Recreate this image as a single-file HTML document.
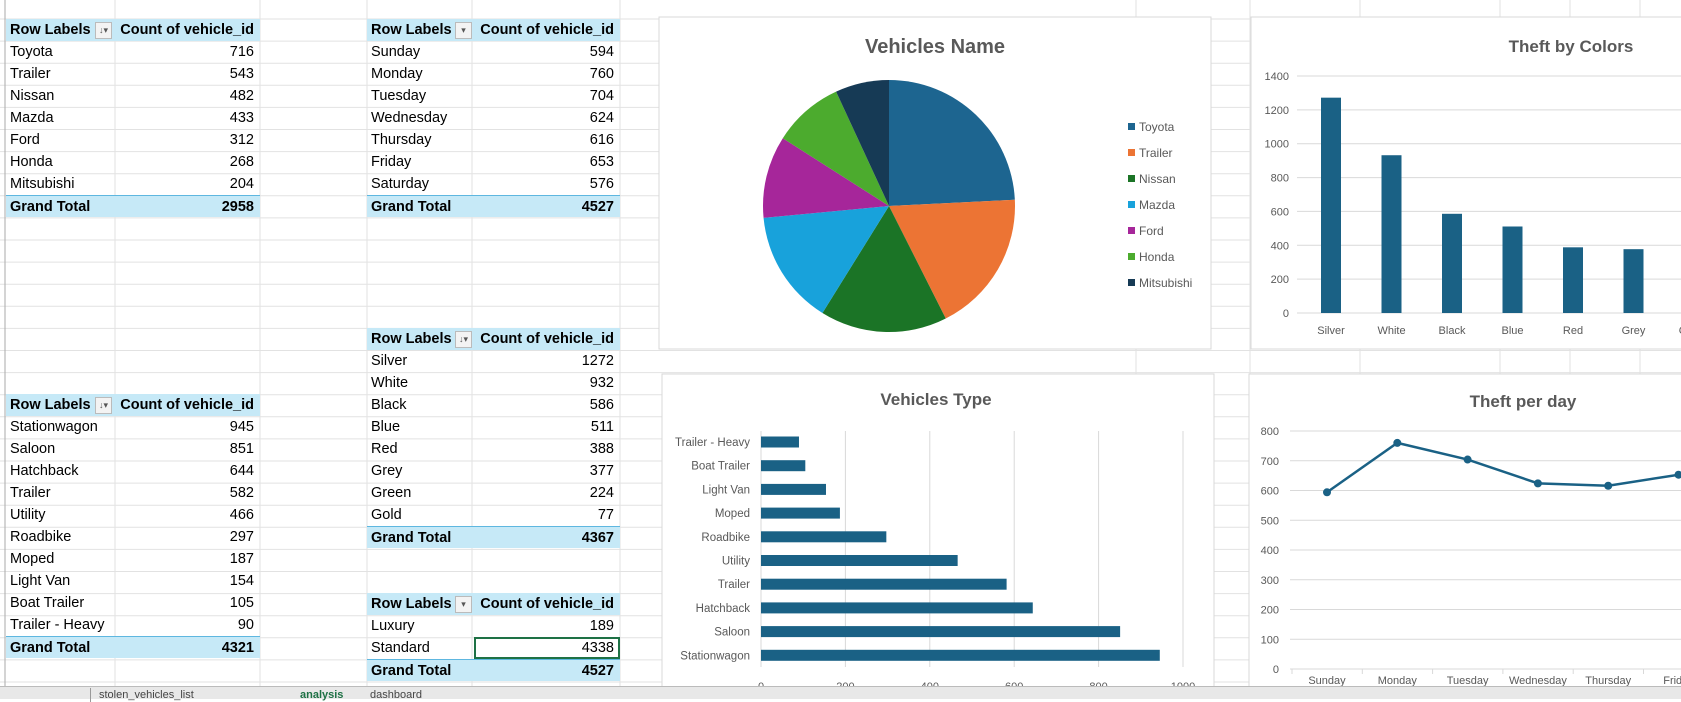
<!DOCTYPE html>
<html><head><meta charset="utf-8">
<style>
body{margin:0;width:1681px;height:698px;overflow:hidden;background:#fff;font-family:"Liberation Sans Narrow","Liberation Sans",sans-serif;position:relative}
.tbl{position:absolute;font-size:14.5px;color:#000}
.row{position:absolute;left:0;height:22px;line-height:22px;width:100%}
.row .l{position:absolute;left:4px}
.row .r{position:absolute;right:6px}
.hdr,.tot{background:#c6e9f7;font-weight:bold}
.tot{border-top:1px solid #5eb7e0;box-sizing:border-box}
.fb{position:absolute;top:3px;width:15px;height:15px;background:#f3f3f3;border:1px solid #bbb;font-size:9px;line-height:15px;text-align:center;color:#555;font-weight:normal}
</style></head><body>
<svg id="bg" width="1681" height="698" style="position:absolute;left:0;top:0"></svg>

<div class="tbl" style="left:6px;top:19px;width:254px;height:198px">
<div class="row hdr" style="top:0"><span class="l">Row Labels</span><span class="fb" style="left:89px">↓▾</span><span class="r">Count of vehicle_id</span></div>
<div class="row" style="top:22px"><span class="l">Toyota</span><span class="r">716</span></div>
<div class="row" style="top:44px"><span class="l">Trailer</span><span class="r">543</span></div>
<div class="row" style="top:66px"><span class="l">Nissan</span><span class="r">482</span></div>
<div class="row" style="top:88px"><span class="l">Mazda</span><span class="r">433</span></div>
<div class="row" style="top:110px"><span class="l">Ford</span><span class="r">312</span></div>
<div class="row" style="top:132px"><span class="l">Honda</span><span class="r">268</span></div>
<div class="row" style="top:154px"><span class="l">Mitsubishi</span><span class="r">204</span></div>
<div class="row tot" style="top:176px"><span class="l">Grand Total</span><span class="r">2958</span></div>
</div>

<div class="tbl" style="left:367px;top:19px;width:253px;height:198px">
<div class="row hdr" style="top:0"><span class="l">Row Labels</span><span class="fb" style="left:88px">▾</span><span class="r">Count of vehicle_id</span></div>
<div class="row" style="top:22px"><span class="l">Sunday</span><span class="r">594</span></div>
<div class="row" style="top:44px"><span class="l">Monday</span><span class="r">760</span></div>
<div class="row" style="top:66px"><span class="l">Tuesday</span><span class="r">704</span></div>
<div class="row" style="top:88px"><span class="l">Wednesday</span><span class="r">624</span></div>
<div class="row" style="top:110px"><span class="l">Thursday</span><span class="r">616</span></div>
<div class="row" style="top:132px"><span class="l">Friday</span><span class="r">653</span></div>
<div class="row" style="top:154px"><span class="l">Saturday</span><span class="r">576</span></div>
<div class="row tot" style="top:176px"><span class="l">Grand Total</span><span class="r">4527</span></div>
</div>

<div class="tbl" style="left:367px;top:328px;width:253px;height:220px">
<div class="row hdr" style="top:0"><span class="l">Row Labels</span><span class="fb" style="left:88px">↓▾</span><span class="r">Count of vehicle_id</span></div>
<div class="row" style="top:22px"><span class="l">Silver</span><span class="r">1272</span></div>
<div class="row" style="top:44px"><span class="l">White</span><span class="r">932</span></div>
<div class="row" style="top:66px"><span class="l">Black</span><span class="r">586</span></div>
<div class="row" style="top:88px"><span class="l">Blue</span><span class="r">511</span></div>
<div class="row" style="top:110px"><span class="l">Red</span><span class="r">388</span></div>
<div class="row" style="top:132px"><span class="l">Grey</span><span class="r">377</span></div>
<div class="row" style="top:154px"><span class="l">Green</span><span class="r">224</span></div>
<div class="row" style="top:176px"><span class="l">Gold</span><span class="r">77</span></div>
<div class="row tot" style="top:198px"><span class="l">Grand Total</span><span class="r">4367</span></div>
</div>

<div class="tbl" style="left:6px;top:394px;width:254px;height:264px">
<div class="row hdr" style="top:0"><span class="l">Row Labels</span><span class="fb" style="left:89px">↓▾</span><span class="r">Count of vehicle_id</span></div>
<div class="row" style="top:22px"><span class="l">Stationwagon</span><span class="r">945</span></div>
<div class="row" style="top:44px"><span class="l">Saloon</span><span class="r">851</span></div>
<div class="row" style="top:66px"><span class="l">Hatchback</span><span class="r">644</span></div>
<div class="row" style="top:88px"><span class="l">Trailer</span><span class="r">582</span></div>
<div class="row" style="top:110px"><span class="l">Utility</span><span class="r">466</span></div>
<div class="row" style="top:132px"><span class="l">Roadbike</span><span class="r">297</span></div>
<div class="row" style="top:154px"><span class="l">Moped</span><span class="r">187</span></div>
<div class="row" style="top:176px"><span class="l">Light Van</span><span class="r">154</span></div>
<div class="row" style="top:198px"><span class="l">Boat Trailer</span><span class="r">105</span></div>
<div class="row" style="top:220px"><span class="l">Trailer - Heavy</span><span class="r">90</span></div>
<div class="row tot" style="top:242px"><span class="l">Grand Total</span><span class="r">4321</span></div>
</div>

<div class="tbl" style="left:367px;top:593px;width:253px;height:88px">
<div class="row hdr" style="top:0"><span class="l">Row Labels</span><span class="fb" style="left:88px">▾</span><span class="r">Count of vehicle_id</span></div>
<div class="row" style="top:22px"><span class="l">Luxury</span><span class="r">189</span></div>
<div class="row" style="top:44px"><span class="l">Standard</span><span class="r" style="right:0;left:107px;border:2px solid #1e7145;height:22px;box-sizing:border-box;text-align:right;padding-right:4px;line-height:18px">4338</span></div>
<div class="row tot" style="top:66px"><span class="l">Grand Total</span><span class="r">4527</span></div>
</div>

<svg id="charts" width="1681" height="698" style="position:absolute;left:0;top:0"></svg>

<div style="position:absolute;left:0;top:686px;width:1681px;height:12px;background:#e8e8e8;border-top:1px solid #bbb;font-size:11px;color:#444;line-height:14px">
<span style="position:absolute;left:90px;top:1px;border-left:1px solid #999;padding-left:8px">stolen_vehicles_list</span>
<span style="position:absolute;left:300px;top:1px;font-weight:bold;color:#1e7145">analysis</span>
<span style="position:absolute;left:370px;top:1px">dashboard</span>
</div>

<script>
const NS="http://www.w3.org/2000/svg";
function mk(p,t,a){const e=document.createElementNS(NS,t);for(const k in a)e.setAttribute(k,a[k]);p.appendChild(e);return e;}
// sheet grid
const bg=document.getElementById('bg');
for(let y=19-22.1;y<698;y+=22.1){const l=mk(bg,'line',{x1:0,x2:1681,y1:y,y2:y,stroke:'#e2e2e2'});}
[5,115,260,367,472,620,1136,1250,1360,1500,1570,1640].forEach(x=>{const l=mk(bg,'line',{x1:x,x2:x,y1:0,y2:698,stroke:'#e2e2e2'});});
mk(bg,'line',{x1:5,x2:5,y1:0,y2:698,stroke:'#aaa'});

const svg=document.getElementById('charts');
const TXT='#595959',BAR='#1a6185',GRID='#d9d9d9';
function box(x,y,w,h,name){const r=mk(svg,'rect',{x:x,y:y,width:w,height:h,fill:'#fff',stroke:'#d9d9d9'});

}
function txt(x,y,s,o){const t=mk(svg,'text',Object.assign({x:x,y:y,fill:TXT,'font-size':12,'font-family':'"Liberation Sans", sans-serif'},o||{}));t.textContent=s;return t;}

// ---------- Pie ----------
const pieCats=['Toyota','Trailer','Nissan','Mazda','Ford','Honda','Mitsubishi'];
const pieVals=[716,543,482,433,312,268,204];
const pieColors=['#1d6590','#ec7434','#1b7426','#18a2db','#a6269a','#4cab2e','#163a55'];
box(659,17,552,332,'pie-chart-vehicles-name');
let tt=txt(935,53,'Vehicles Name',{'text-anchor':'middle','font-size':20,'font-weight':'bold','font-family':'"Liberation Sans Narrow","Liberation Sans",sans-serif'});


const cx=889,cy=206,R=126;const tot=pieVals.reduce((a,b)=>a+b,0);let ang=0;
pieVals.forEach((v,i)=>{const a0=ang,a1=ang+v/tot*2*Math.PI;ang=a1;
const x0=cx+R*Math.sin(a0),y0=cy-R*Math.cos(a0),x1=cx+R*Math.sin(a1),y1=cy-R*Math.cos(a1);
const p=mk(svg,'path',{d:`M${cx},${cy}L${x0},${y0}A${R},${R} 0 ${a1-a0>Math.PI?1:0} 1 ${x1},${y1}Z`,fill:pieColors[i]});


const ly=128+i*26;
const sw=mk(svg,'rect',{x:1128,y:ly-5,width:7,height:7,fill:pieColors[i]});


const lt=txt(1139,ly+3,pieCats[i],{'font-size':12,'font-family':'"Liberation Sans Narrow","Liberation Sans",sans-serif'});


});

// ---------- Theft by Colors ----------
const colorCats=['Silver','White','Black','Blue','Red','Grey','Green','Gold'];
const colorVals=[1272,932,586,511,388,377,224,77];
const colorTicks=[0,200,400,600,800,1000,1200,1400];
box(1251,17,440,332,'bar-chart-theft-by-colors');
tt=txt(1571,52,'Theft by Colors',{'text-anchor':'middle','font-size':17,'font-weight':'bold'});


const cy0=313,cy1=76,cyS=v=>cy0-(v/1400)*(cy0-cy1);
colorTicks.forEach(t=>{mk(svg,'line',{x1:1297,x2:1681,y1:cyS(t),y2:cyS(t),stroke:GRID});
const l=txt(1289,cyS(t)+4,String(t),{'text-anchor':'end','font-size':11});

});
const cX=i=>1331+i*60.5;
colorVals.forEach((v,i)=>{const r=mk(svg,'rect',{x:cX(i)-10,y:cyS(v),width:20,height:cy0-cyS(v),fill:BAR});


const l=txt(cX(i),334,colorCats[i],{'text-anchor':'middle','font-size':11});

});

// ---------- Vehicles Type ----------
const typeCats=['Trailer - Heavy','Boat Trailer','Light Van','Moped','Roadbike','Utility','Trailer','Hatchback','Saloon','Stationwagon'];
const typeVals=[90,105,154,187,297,466,582,644,851,945];
const typeTicks=[0,200,400,600,800,1000];
box(662,374,552,340,'bar-chart-vehicles-type');
tt=txt(936,405,'Vehicles Type',{'text-anchor':'middle','font-size':17,'font-weight':'bold'});


const tx=v=>761+v*0.422;
typeTicks.forEach(t=>{mk(svg,'line',{x1:tx(t),x2:tx(t),y1:431,y2:667,stroke:GRID});
const l=txt(tx(t),690,String(t),{'text-anchor':'middle','font-size':11});

});
const ty=i=>442+i*23.7;
typeVals.forEach((v,i)=>{const r=mk(svg,'rect',{x:tx(0),y:ty(i)-5.5,width:tx(v)-tx(0),height:11,fill:BAR});


const l=txt(750,ty(i)+4,typeCats[i],{'text-anchor':'end','font-size':11.5});

});

// ---------- Theft per day ----------
const dayCats=['Sunday','Monday','Tuesday','Wednesday','Thursday','Friday','Saturday'];
const dayVals=[594,760,704,624,616,653,576];
const dayTicks=[0,100,200,300,400,500,600,700,800];
box(1249,374,440,340,'line-chart-theft-per-day');
tt=txt(1523,407,'Theft per day',{'text-anchor':'middle','font-size':17,'font-weight':'bold'});


const dy0=669,dy1=431,dyS=v=>dy0-(v/800)*(dy0-dy1);
dayTicks.forEach(t=>{mk(svg,'line',{x1:1290,x2:1681,y1:dyS(t),y2:dyS(t),stroke:GRID});
const l=txt(1279,dyS(t)+4,String(t),{'text-anchor':'end','font-size':11});

});
const dX=i=>1327+i*70.3;
const pts=dayVals.map((v,i)=>dX(i)+','+dyS(v)).join(' ');
const pl=mk(svg,'polyline',{points:pts,fill:'none',stroke:BAR,'stroke-width':2.5});


dayVals.forEach((v,i)=>{const c=mk(svg,'circle',{cx:dX(i),cy:dyS(v),r:4,fill:BAR});


mk(svg,'line',{x1:dX(i)-35,x2:dX(i)-35,y1:669,y2:674,stroke:GRID});
const l=txt(dX(i),684,dayCats[i],{'text-anchor':'middle','font-size':11});

});
</script>
</body></html>
